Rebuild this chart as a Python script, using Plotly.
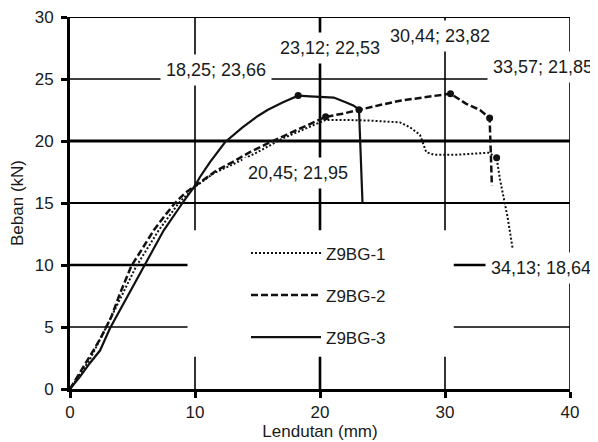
import plotly.graph_objects as go

# ---- data ----
z1_x = [0, 0.8, 1.6, 2.9, 4.1, 5.3, 7.1, 8.7, 10.0, 11.5, 13.0, 15.0, 17.0, 19.0, 20.45,
        22.0, 24.0, 26.4, 27.2, 28.0, 28.5, 29.1, 31.0, 33.5, 34.13, 34.4, 35.0, 35.4]
z1_y = [0, 1.2, 2.4, 5.0, 7.5, 9.9, 12.8, 15.0, 16.3, 17.4, 18.1, 19.1, 20.2, 21.1, 21.7,
        21.7, 21.65, 21.5, 21.1, 20.5, 19.1, 18.9, 18.9, 19.05, 18.64, 16.9, 13.9, 11.4]

z2_x = [0, 0.8, 1.6, 2.4, 3.3, 4.0, 4.9, 5.8, 6.7, 7.6, 8.4, 9.2, 10.0, 10.4, 11.7, 13.0,
        14.4, 15.8, 17.1, 18.4, 20.45, 21.8, 23.2, 24.8, 26.4, 28.0, 29.2, 30.44, 31.7,
        32.8, 33.57, 33.65, 33.75]
z2_y = [0, 1.3, 2.6, 4.0, 5.8, 7.7, 9.9, 11.4, 12.8, 14.0, 15.0, 15.8, 16.4, 16.7, 17.6,
        18.3, 19.1, 19.8, 20.4, 21.0, 21.95, 22.2, 22.5, 22.9, 23.25, 23.5, 23.65, 23.82,
        23.0, 22.5, 21.85, 19.0, 16.4]

z3_x = [0, 0.8, 1.6, 2.4, 3.2, 4.3, 5.9, 7.5, 9.0, 10.0, 10.4, 11.2, 12.4, 13.8, 15.0,
        15.8, 17.0, 18.25, 19.2, 20.2, 21.1, 22.1, 22.7, 23.12, 23.25, 23.4]
z3_y = [0, 1.0, 2.1, 3.1, 4.9, 6.9, 9.9, 12.8, 15.0, 16.4, 17.1, 18.3, 19.9, 21.1, 22.0,
        22.5, 23.1, 23.66, 23.6, 23.55, 23.5, 23.1, 22.85, 22.53, 19.0, 15.0]

series_names = ["Z9BG-1", "Z9BG-2", "Z9BG-3"]

# highlighted points (x; y)
pts1_x = [34.13]
pts1_y = [18.64]
pts2_x = [20.45, 30.44, 33.57]
pts2_y = [21.95, 23.82, 21.85]
pts3_x = [18.25, 23.12]
pts3_y = [23.66, 22.53]

x_ticks = [0, 10, 20, 30, 40]
y_ticks = [0, 5, 10, 15, 20, 25, 30]

x_title = "Lendutan (mm)"
y_title = "Beban (kN)"

# ---- styling ----
FONT = "Liberation Sans, Arial, sans-serif"
TXT = "#1a1a1a"

fig = go.Figure()

line_styles = [
    dict(color="#111", width=2, dash="2px,2px"),
    dict(color="#111", width=2.5, dash="7px,3px"),
    dict(color="#111", width=2.2),
]
for nm, xs, ys, ls in zip(series_names, [z1_x, z2_x, z3_x], [z1_y, z2_y, z3_y], line_styles):
    fig.add_trace(go.Scatter(x=xs, y=ys, mode="lines", name=nm, line=ls,
                             legendgroup=nm, showlegend=True))

for px, py in [(pts1_x, pts1_y), (pts2_x, pts2_y), (pts3_x, pts3_y)]:
    fig.add_trace(go.Scatter(x=px, y=py, mode="markers", showlegend=False,
                             marker=dict(color="#111", size=7)))

# gridlines as shapes (varying weights like the reference)
shapes = []
hgrid_w = {5: 1.3, 10: 2.7, 15: 1.8, 20: 2.8, 25: 1.3, 30: 1.8}
for yv in y_ticks[1:]:
    shapes.append(dict(type="line", xref="x", yref="y", x0=0, x1=40, y0=yv, y1=yv,
                       layer="below", line=dict(color="black", width=hgrid_w[yv])))
vgrid_w = {10: 1.6, 20: 2.6, 30: 1.6, 40: 1.6}
for xv in x_ticks[1:]:
    shapes.append(dict(type="line", xref="x", yref="y", x0=xv, x1=xv, y0=0, y1=30,
                       layer="below", line=dict(color="black", width=vgrid_w[xv])))
# white box behind legend
shapes.append(dict(type="rect", xref="x", yref="y", x0=9.4, x1=30.7, y0=2.6, y1=12.8,
                   layer="below", fillcolor="white", line=dict(width=0)))

# point labels
def fmt(v):
    return f"{v:.2f}".replace(".", ",")

label_pts = [(pts3_x[0], pts3_y[0]), (pts3_x[1], pts3_y[1]), (pts2_x[1], pts2_y[1]),
             (pts2_x[2], pts2_y[2]), (pts2_x[0], pts2_y[0]), (pts1_x[0], pts1_y[0])]
label_pos = [(11.7, 25.7), (20.8, 27.5), (29.6, 28.5), (37.8, 26.0), (18.2, 17.4), (37.7, 9.75)]
annotations = []
for (vx, vy), (lx, ly) in zip(label_pts, label_pos):
    annotations.append(dict(x=lx, y=ly, xref="x", yref="y", text=f"{fmt(vx)}; {fmt(vy)}",
                            showarrow=False, bgcolor="white", borderpad=5,
                            font=dict(family=FONT, size=18, color=TXT)))

# the page body has an 8px margin, so the figure is sized/placed to compensate
fig.update_layout(
    width=590, height=434,
    margin=dict(l=62, r=28, t=9, b=53),
    paper_bgcolor="white", plot_bgcolor="white",
    font=dict(family=FONT, size=17, color=TXT),
    shapes=shapes, annotations=annotations,
    showlegend=True,
    legend=dict(x=0.352, y=0.413, xanchor="left", yanchor="top", bgcolor="rgba(0,0,0,0)",
                itemwidth=70, tracegroupgap=17, font=dict(family=FONT, size=17, color=TXT)),
    xaxis=dict(range=[0, 40], tickvals=x_ticks, showgrid=False, zeroline=False,
               automargin=False, ticklabeloverflow="allow",
               showline=True, linewidth=3, linecolor="black", ticks="outside",
               ticklen=6, tickwidth=3, tickcolor="black", tickfont=dict(size=17),
               title=dict(text=x_title, standoff=3, font=dict(size=17))),
    yaxis=dict(range=[0, 30], tickvals=y_ticks, showgrid=False, zeroline=False,
               automargin=False, ticklabeloverflow="allow",
               showline=True, linewidth=3, linecolor="black", ticks="outside",
               ticklen=6, tickwidth=3, tickcolor="black", tickfont=dict(size=17),
               ticklabelstandoff=4,
               title=dict(text=y_title, standoff=17, font=dict(size=17))),
)

fig.write_html("out.html")
